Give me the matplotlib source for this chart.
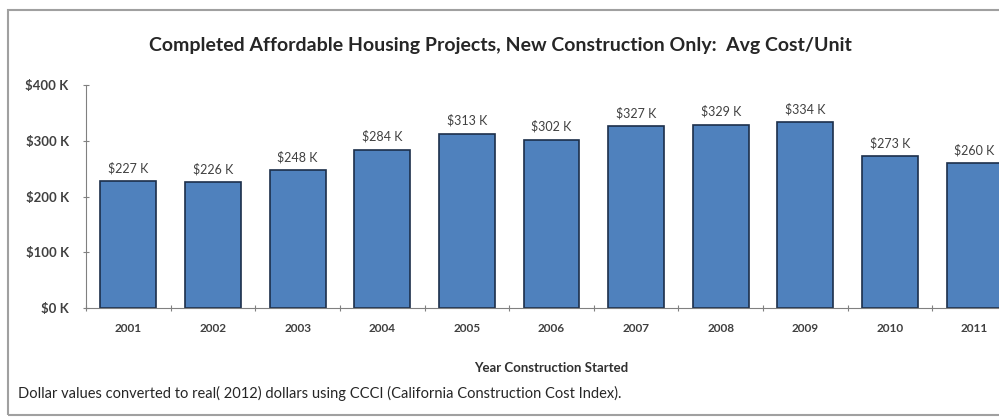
import matplotlib.pyplot as plt
from matplotlib.patches import Rectangle

# --- Data ---
years = ["2001", "2002", "2003", "2004", "2005", "2006", "2007", "2008", "2009", "2010", "2011"]
avg_cost = [227, 226, 248, 284, 313, 302, 327, 329, 334, 273, 260]
y_ticks = [0, 100, 200, 300, 400]

plt.rcParams['font.family'] = ['Lato', 'DejaVu Sans']

fig = plt.figure(figsize=(9.99, 4.19), dpi=100)
W, H = 999, 419

# outer chart frame
fig.patches.append(Rectangle((8 / W, 4 / H), 1.2, 405 / H, transform=fig.transFigure,
                             fill=False, edgecolor="#a0a0a0", linewidth=1.5))

# axes: x from ~86 px to beyond the right edge, y from 308 (0) to 85 (400)
left = 86 / W
width = (1017 - 86) / W
bottom = (H - 308) / H
height = (308 - 85) / H
ax = fig.add_axes([left, bottom, width, height])

x = list(range(len(years)))
bars = ax.bar(x, avg_cost, width=0.66, color="#4f81bd", edgecolor="#1c2f4a", linewidth=1.2)

for xi, v in zip(x, avg_cost):
    ax.text(xi, v + 12, f"${v} K", ha="center", va="bottom", fontsize=9, color="#404040")

ax.set_xlim(-0.5, len(years) - 0.5)
ax.set_ylim(0, 400)
ax.set_yticks(y_ticks)
ax.set_yticklabels([f"${t} K" for t in y_ticks], fontsize=9.5, fontweight="bold", color="#404040")

# category labels under bars, ticks between categories
ax.set_xticks([i + 0.5 for i in x[:-1]] + [-0.5])
ax.set_xticklabels([])
ax.set_xticks(x, minor=True)
ax.set_xticklabels(years, minor=True, fontsize=8.5, fontweight="bold", color="#404040")
ax.tick_params(axis="x", which="minor", length=0, pad=11)
ax.tick_params(axis="x", which="major", length=4, direction="inout", color="#808080")
ax.tick_params(axis="y", length=5, direction="inout", color="#808080", pad=10)

for s in ["top", "right"]:
    ax.spines[s].set_visible(False)
ax.spines["left"].set_color("#808080")
ax.spines["bottom"].set_color("#808080")

ax.set_xlabel("Year Construction Started", fontsize=9.5, fontweight="bold", color="#303030", labelpad=20)

fig.text(500 / W, 1 - 45 / H, "Completed Affordable Housing Projects, New Construction Only:  Avg Cost/Unit",
         ha="center", va="center", fontsize=14, fontweight="bold", color="#262626")
fig.text(18 / W, 1 - 393 / H,
         "Dollar values converted to real( 2012) dollars using CCCI (California Construction Cost Index).",
         ha="left", va="center", fontsize=10.5, color="#262626")

fig.savefig("out.png", dpi=100)
